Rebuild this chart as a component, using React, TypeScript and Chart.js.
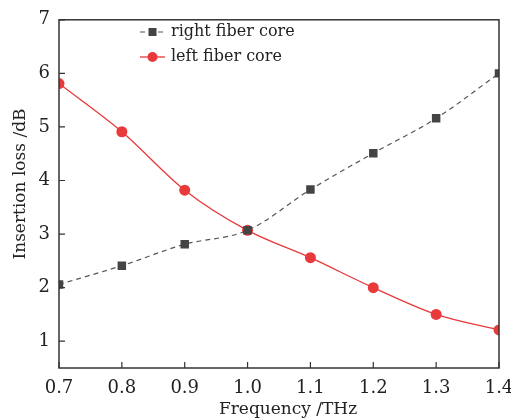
import React, { useEffect, useRef } from "react";
import { Chart, registerables } from "chart.js";

Chart.register(...registerables);

const frequencies = [0.7, 0.8, 0.9, 1.0, 1.1, 1.2, 1.3, 1.4];
const rightFiberCore = [2.06, 2.41, 2.81, 3.07, 3.83, 4.51, 5.16, 6.0];
const leftFiberCore = [5.81, 4.91, 3.82, 3.07, 2.56, 2.0, 1.5, 1.21];
const xTicks = [0.7, 0.8, 0.9, 1.0, 1.1, 1.2, 1.3, 1.4];
const yTicks = [1, 2, 3, 4, 5, 6, 7];
const seriesNames = ["right fiber core", "left fiber core"];
const xTitle = "Frequency /THz";
const yTitle = "Insertion loss /dB";

const FONT = "'DejaVu Serif', serif";

const framePlugin = {
  id: "frameTicks",
  afterDatasetsDraw(chart: any) {
    const { ctx, chartArea, scales } = chart;
    const { left, right, top, bottom } = chartArea;
    ctx.save();
    ctx.strokeStyle = "#333";
    ctx.lineWidth = 1.5;
    ctx.setLineDash([]);
    ctx.strokeRect(left, top, right - left, bottom - top);
    ctx.lineWidth = 1.2;
    const tl = 6;
    ctx.beginPath();
    for (const v of xTicks) {
      const x = scales.x.getPixelForValue(v);
      ctx.moveTo(x, bottom);
      ctx.lineTo(x, bottom - tl);
    }
    for (const v of yTicks) {
      const y = scales.y.getPixelForValue(v);
      ctx.moveTo(left, y);
      ctx.lineTo(left + tl, y);
    }
    ctx.stroke();

    // legend
    const rows = [32, 57];
    const lx0 = 140;
    const lx1 = 165;
    chart.data.datasets.forEach((ds: any, i: number) => {
      const y = rows[i];
      ctx.save();
      ctx.strokeStyle = ds.borderColor;
      ctx.lineWidth = ds.borderWidth;
      ctx.setLineDash(ds.borderDash || []);
      ctx.beginPath();
      ctx.moveTo(lx0, y);
      ctx.lineTo(lx1, y);
      ctx.stroke();
      ctx.setLineDash([]);
      ctx.fillStyle = ds.pointBackgroundColor;
      const cx = (lx0 + lx1) / 2;
      if (ds.pointStyle === "rect") {
        ctx.fillRect(cx - 4, y - 4, 8, 8);
      } else {
        ctx.beginPath();
        ctx.arc(cx, y, 5, 0, Math.PI * 2);
        ctx.fill();
      }
      ctx.fillStyle = "#222";
      ctx.font = `16px ${FONT}`;
      ctx.textBaseline = "middle";
      ctx.textAlign = "left";
      ctx.fillText(ds.label, 171, y);
      ctx.restore();
    });

    // axis titles
    ctx.fillStyle = "#222";
    ctx.font = `17px ${FONT}`;
    ctx.textAlign = "center";
    ctx.textBaseline = "alphabetic";
    ctx.fillText(xTitle, 288, 414);
    ctx.save();
    ctx.translate(25, 184);
    ctx.rotate(-Math.PI / 2);
    ctx.fillText(yTitle, 0, 0);
    ctx.restore();
    ctx.restore();
  },
};

export default function App() {
  const ref = useRef<HTMLCanvasElement | null>(null);
  useEffect(() => {
    document.body.style.margin = "0";
    const canvas = ref.current!;
    const chart = new Chart(canvas, {
      type: "line",
      data: {
        datasets: [
          {
            label: seriesNames[0],
            data: frequencies.map((f, i) => ({ x: f, y: rightFiberCore[i] })),
            borderColor: "#555",
            borderWidth: 1.2,
            borderDash: [5, 4],
            pointStyle: "rect",
            pointRadius: 6,
            pointBackgroundColor: "#444",
            pointBorderColor: "#444",
            pointBorderWidth: 0,
            cubicInterpolationMode: "monotone",
            clip: 0,
          },
          {
            label: seriesNames[1],
            data: frequencies.map((f, i) => ({ x: f, y: leftFiberCore[i] })),
            borderColor: "#e8393b",
            borderWidth: 1.3,
            pointStyle: "circle",
            pointRadius: 5.5,
            pointBackgroundColor: "#e8393b",
            pointBorderColor: "#e8393b",
            pointBorderWidth: 0,
            cubicInterpolationMode: "monotone",
            clip: 0,
          },
        ],
      },
      options: {
        animation: false,
        responsive: false,
        events: [],
        layout: { padding: { top: 14, right: 0, left: 0, bottom: 0 } },
        plugins: { legend: { display: false }, tooltip: { enabled: false } },
        scales: {
          x: {
            type: "linear",
            min: 0.7,
            max: 1.4,
            afterBuildTicks: (s: any) => {
              s.ticks = xTicks.map((v) => ({ value: v }));
            },
            afterFit: (s: any) => {
              s.height = 50;
              s.paddingRight = 12;
              s.paddingLeft = 0;
            },
            grid: { display: false, drawTicks: false },
            border: { display: false },
            ticks: {
              color: "#222",
              font: { family: FONT, size: 18 },
              padding: 10,
              maxRotation: 0,
              autoSkip: false,
              callback: (v: any) => Number(v).toFixed(1),
            },
            title: { display: false },
          },
          y: {
            type: "linear",
            min: 0.5,
            max: 7,
            afterBuildTicks: (s: any) => {
              s.ticks = yTicks.map((v) => ({ value: v }));
            },
            afterFit: (s: any) => {
              s.width = 59;
            },
            grid: { display: false, drawTicks: false },
            border: { display: false },
            ticks: {
              color: "#222",
              font: { family: FONT, size: 18 },
              padding: 9,
              autoSkip: false,
            },
            title: { display: false },
          },
        },
      } as any,
      plugins: [framePlugin],
    });
    return () => chart.destroy();
  }, []);
  return <canvas ref={ref} width={511} height={418} style={{ display: "block" }} />;
}
